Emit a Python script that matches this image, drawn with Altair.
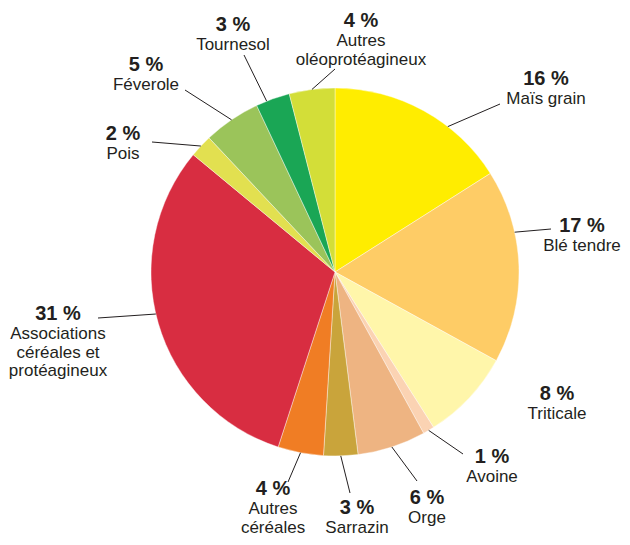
import math
import altair as alt
import pandas as pd

# ---- data ----
categories = ["Maïs grain", "Blé tendre", "Triticale", "Avoine", "Orge", "Sarrazin",
              "Autres céréales", "Associations céréales et protéagineux", "Pois",
              "Féverole", "Tournesol", "Autres oléoprotéagineux"]
values = [16, 17, 8, 1, 6, 3, 4, 31, 2, 5, 3, 4]
pct_labels = ["16 %", "17 %", "8 %", "1 %", "6 %", "3 %", "4 %", "31 %", "2 %", "5 %", "3 %", "4 %"]
name_labels = ["Maïs grain", "Blé tendre", "Triticale", "Avoine", "Orge", "Sarrazin",
               "Autres\ncéréales", "Associations\ncéréales et\nprotéagineux", "Pois",
               "Féverole", "Tournesol", "Autres\noléoprotéagineux"]
colors = ["#FFED00", "#FECC66", "#FFF6AA", "#FBD3B3", "#EEB482", "#C9A43B",
          "#F07D24", "#D82D41", "#E2E050", "#9BC45A", "#1AA655", "#D3DE38"]

# ---- layout (pixel offsets from pie centre) ----
W, H = 614, 529
CX, CY, R = 327, 264, 184
label_pos = [(211, -187), (247, -40), (222, 128), (157, 191), (92, 232), (22, 242),
             (-62, 223), (-277, 48), (-212, -132), (-189, -201), (-102, -241), (26, -245)]
leader_out = [(165, -168), (216, -43), None, (128, 182), (82, 209), (15, 221),
              (-47, 210), (-237, 46), (-183, -130), (-150, -182), (-91, -217), (0, -203)]
leader_nudge = [9, -10.7, 0, 0, 0, 0, 0, 3, 0, 0, -2, 0]

total = sum(values)
order = list(range(len(categories)))
pie_df = pd.DataFrame({"cat": categories, "value": values, "ord": order})

lab_rows, line_rows = [], []
cum = 0
for i, v in enumerate(values):
    mid = (cum + v / 2) / total * 360 + leader_nudge[i]
    cum += v
    lx, ly = label_pos[i]
    lab_rows.append({"x": CX + lx, "y": CY + ly, "pct": pct_labels[i],
                     "name": name_labels[i], "ny": CY + ly + 19})
    if leader_out[i] is not None:
        a = math.radians(mid)
        ix = CX + R * math.sin(a)
        iy = CY - R * math.cos(a)
        ox, oy = leader_out[i]
        line_rows.append({"x": CX + ox, "y": CY + oy, "x2": ix, "y2": iy})
lab_df = pd.DataFrame(lab_rows)
line_df = pd.DataFrame(line_rows)

pie = alt.Chart(pie_df).mark_arc(outerRadius=R, stroke="white", strokeWidth=0.4).encode(
    theta=alt.Theta("value:Q", stack=True),
    order=alt.Order("ord:Q"),
    color=alt.Color("cat:N", scale=alt.Scale(domain=categories, range=colors), legend=None),
    x=alt.value(CX), y=alt.value(CY),
)

lines = alt.Chart(line_df).mark_rule(color="#231F20", strokeWidth=1).encode(
    x=alt.X("x:Q", scale=None), y=alt.Y("y:Q", scale=None),
    x2="x2:Q", y2="y2:Q",
)

pct = alt.Chart(lab_df).mark_text(font="Liberation Sans", fontSize=20, fontWeight="bold",
                                  color="#231F20", align="center", baseline="alphabetic").encode(
    x=alt.X("x:Q", scale=None), y=alt.Y("y:Q", scale=None), text="pct:N")

names = alt.Chart(lab_df).mark_text(font="Liberation Sans", fontSize=17, color="#231F20",
                                    align="center", baseline="alphabetic", lineBreak="\n",
                                    lineHeight=18.5).encode(
    x=alt.X("x:Q", scale=None), y=alt.Y("ny:Q", scale=None), text="name:N")

chart = alt.layer(pie, lines, pct, names).properties(
    width=W, height=H, autosize=alt.AutoSizeParams(type="none"), padding=0
).configure_view(stroke=None)

chart.save("out.html", embed_options={"renderer": "svg", "actions": False})
